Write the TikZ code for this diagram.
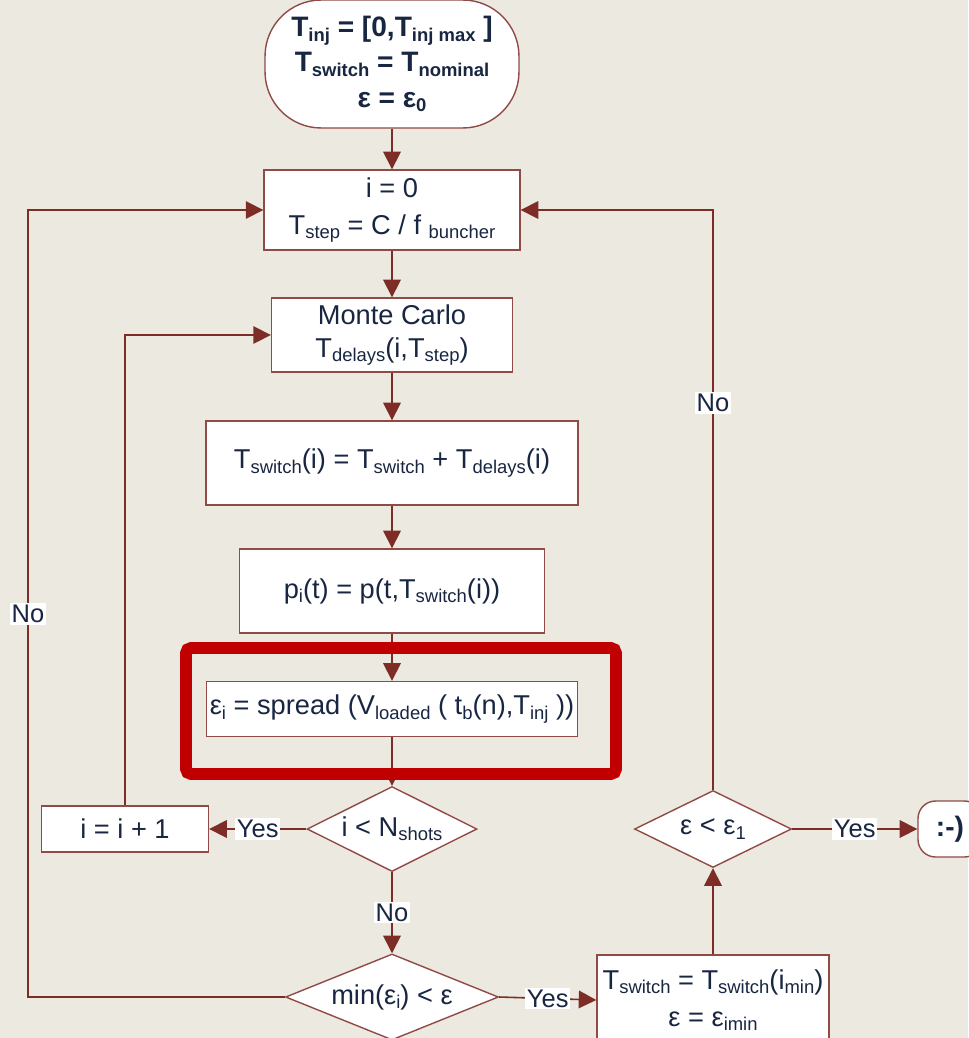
\documentclass[tikz,border=0pt]{standalone}
\usepackage{fontspec}
\setmainfont{Liberation Sans}
\usetikzlibrary{shapes.geometric,arrows.meta}

\definecolor{paper}{RGB}{236,233,224}
\definecolor{wine}{RGB}{125,45,38}
\definecolor{edge}{RGB}{145,75,70}
\definecolor{ink}{RGB}{24,38,66}
\definecolor{alarm}{RGB}{192,0,0}

\newcommand{\lo}[1]{\raisebox{-0.3ex}{\fontsize{10.5}{12}\selectfont #1}}

\tikzset{
  box/.style={shape=rectangle, draw=edge, fill=white, line width=0.8pt, text=ink,
    align=center, inner sep=2pt, font=\fontsize{15.5}{21}\selectfont},
  test/.style={shape=diamond, aspect=2, draw=edge, fill=white, line width=0.8pt,
    text=ink, inner sep=0pt, font=\fontsize{15.5}{18}\selectfont},
  term/.style={box, font=\fontsize{16}{20}\selectfont\bfseries},
  flow/.style={draw=wine, line width=0.9pt, -{Triangle[length=10pt,width=10pt]}},
  lbl/.style={fill=white, text=ink, inner sep=1pt, font=\fontsize{14.5}{15}\selectfont},
}

\begin{document}
\begin{tikzpicture}[x=0.02cm,y=-0.02cm]
\useasboundingbox [fill=paper] (0,0) rectangle (968,1038);

\path (392,64) node (start) [term, rounded corners=32pt, minimum width=5.08cm, minimum height=2.56cm]
  {T\lo{inj} = [0,T\lo{inj max} ]\\T\lo{switch} = T\lo{nominal}\\ε = ε\lo{0}};
\path (392,210) node (init) [box, minimum width=5.12cm, minimum height=1.6cm]
  {i = 0\\T\lo{step} = C / f \lo{buncher}};
\path (392,335) node (mc) [box, minimum width=4.82cm, minimum height=1.48cm]
  {Monte Carlo\\[-2pt]T\lo{delays}(i,T\lo{step})};
\path (392,463) node (shift) [box, minimum width=7.44cm, minimum height=1.68cm]
  {T\lo{switch}(i) = T\lo{switch} + T\lo{delays}(i)};
\path (392,591) node (pulse) [box, minimum width=6.1cm, minimum height=1.68cm]
  {p\lo{i}(t) = p(t,T\lo{switch}(i))};
\path (392,709) node (spread) [box, minimum width=7.42cm, minimum height=1.1cm]
  {ε\lo{i} = spread (V\lo{loaded} ( t\lo{b}(n),T\lo{inj} ))};
\path (392,829) node (shots) [test, minimum width=3.4cm, minimum height=1.7cm] {i < N\lo{shots}};
\path (125,829) node (incr) [box, minimum width=3.34cm, minimum height=0.92cm] {i = i + 1};
\path (392,997) node (better) [test, minimum width=4.26cm, minimum height=1.32cm] {min(ε\lo{i}) < ε};
\path (713,1000) node (keep) [box, minimum width=4.64cm, minimum height=1.8cm]
  {T\lo{switch} = T\lo{switch}(i\lo{min})\\ε = ε\lo{imin}};
\path (713,829) node (conv) [test, minimum width=3.14cm, minimum height=1.54cm] {ε < ε\lo{1}};
\path (950,829) node (stop) [term, rounded corners=10pt, minimum width=1.28cm, minimum height=1.12cm] {:-)};

\coordinate (leftrail) at (28,614);
\coordinate (uprail) at (713,403);

\draw [flow] (start) to (init);
\draw [flow] (init) to (mc);
\draw [flow] (mc) to (shift);
\draw [flow] (shift) to (pulse);
\draw [flow] (pulse) to (spread);
\draw [flow] (spread) to (shots);
\draw [flow] (shots.west) to node [lbl] (yes1) {Yes} (incr.east);
\draw [flow] (incr.north) |- (mc.west);
\draw [flow] (shots.south) to node [lbl] (no1) {No} (better.north);
\draw [flow] (better.west) -| (leftrail) node [lbl] (no2) {No} |- (init.west);
\draw [flow] (better.east) to node [lbl] (yes2) {Yes} (keep.west);
\draw [flow] (keep.north) to (conv.south);
\draw [flow] (conv.north) -- (uprail) node [lbl] (no3) {No} |- (init.east);
\draw [flow] (conv.east) to node [lbl] (yes3) {Yes} (stop.west);

% highlight
\draw [alarm, line width=6.8pt, rounded corners=3pt] (186,648) rectangle (616,774);

\end{tikzpicture}
\end{document}
